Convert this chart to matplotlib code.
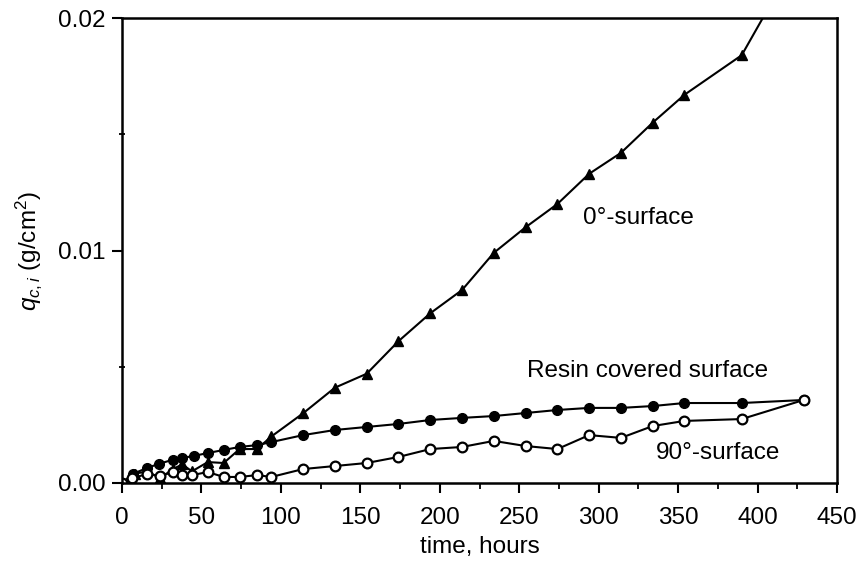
import matplotlib
matplotlib.use("Agg")
import matplotlib.pyplot as plt
from matplotlib.ticker import MultipleLocator, FixedLocator

plt.rcParams['font.family'] = ['Liberation Sans', 'DejaVu Sans']
plt.rcParams['mathtext.fontset'] = 'custom'
plt.rcParams['mathtext.rm'] = 'Liberation Sans'
plt.rcParams['mathtext.it'] = 'Liberation Sans:italic'

# 0 degree surface (filled triangles)
t_0deg = [0, 8, 16, 24, 32, 38, 44, 54, 64, 74, 85, 94, 114, 134, 154, 174, 194,
          214, 234, 254, 274, 294, 314, 334, 354, 390, 429]
q_0deg = [0.0, 0.0004, 0.0005, 0.0002, 0.0006, 0.0008, 0.0005, 0.0009, 0.00086,
          0.00146, 0.00146, 0.0020, 0.0030, 0.0041, 0.0047, 0.0061, 0.0073,
          0.0083, 0.0099, 0.0110, 0.0120, 0.0133, 0.0142, 0.0155, 0.0167,
          0.0184, 0.0231]

# resin covered surface (filled circles)
t_resin = [0, 7, 16, 23, 32, 38, 45, 54, 64, 74, 85, 94, 114, 134, 154, 174, 194,
           214, 234, 254, 274, 294, 314, 334, 354, 390, 429]
q_resin = [0.0, 0.0004, 0.00065, 0.00082, 0.0010, 0.00108, 0.00116, 0.00129,
           0.00142, 0.00155, 0.00163, 0.00176, 0.00206, 0.00228, 0.00241,
           0.00254, 0.00271, 0.0028, 0.00288, 0.00301, 0.00314, 0.00323,
           0.00323, 0.00331, 0.00344, 0.00344, 0.00357]

# 90 degree surface (open circles)
t_90deg = [0, 6, 16, 24, 32, 38, 44, 54, 64, 74, 85, 94, 114, 134, 154, 174, 194,
           214, 234, 254, 274, 294, 314, 334, 354, 390, 429]
q_90deg = [0.0, 0.0002, 0.00039, 0.0003, 0.00047, 0.00034, 0.00034, 0.00047,
           0.00026, 0.00026, 0.00034, 0.00026, 0.0006, 0.00073, 0.00086,
           0.00112, 0.00146, 0.00155, 0.00181, 0.00159, 0.00146, 0.00206,
           0.00194, 0.00245, 0.00267, 0.00275, 0.00357]

fs = 17.5

fig = plt.figure(figsize=(8.64, 5.63), dpi=100)
ax = fig.add_axes([0.1412, 0.1421, 0.8276, 0.8259])

ax.plot(t_0deg, q_0deg, color='black', lw=1.5, marker='^', ms=7,
        mfc='black', mec='black')
ax.plot(t_resin, q_resin, color='black', lw=1.5, marker='o', ms=7,
        mfc='black', mec='black')
ax.plot(t_90deg, q_90deg, color='black', lw=1.5, marker='o', ms=7,
        mfc='white', mec='black', mew=1.6)

ax.set_xlim(0, 450)
ax.set_ylim(0, 0.02)
ax.xaxis.set_major_locator(MultipleLocator(50))
ax.xaxis.set_minor_locator(MultipleLocator(25))
ax.yaxis.set_major_locator(FixedLocator([0.0, 0.01, 0.02]))
ax.yaxis.set_minor_locator(FixedLocator([0.005, 0.015]))
ax.set_yticklabels(['0.00', '0.01', '0.02'])

ax.tick_params(axis='both', which='major', direction='out', length=7, width=1.5,
               labelsize=fs, pad=5)
ax.tick_params(axis='x', which='major', pad=10)
ax.tick_params(axis='x', which='minor', direction='out', length=4, width=1.3)
ax.tick_params(axis='y', which='minor', direction='inout', length=4, width=1.3)
for sp in ax.spines.values():
    sp.set_linewidth(1.8)

ax.set_xlabel('time, hours', fontsize=fs, labelpad=5)
ax.set_ylabel(r'$q_{c,i}$ (g/cm$^2$)', fontsize=fs, labelpad=10)

ax.text(290, 0.0114, '0°-surface', fontsize=fs, va='center', ha='left')
ax.text(255, 0.0048, 'Resin covered surface', fontsize=fs, va='center', ha='left')
ax.text(336, 0.0013, '90°-surface', fontsize=fs, va='center', ha='left')

fig.savefig('out.png', dpi=100)
